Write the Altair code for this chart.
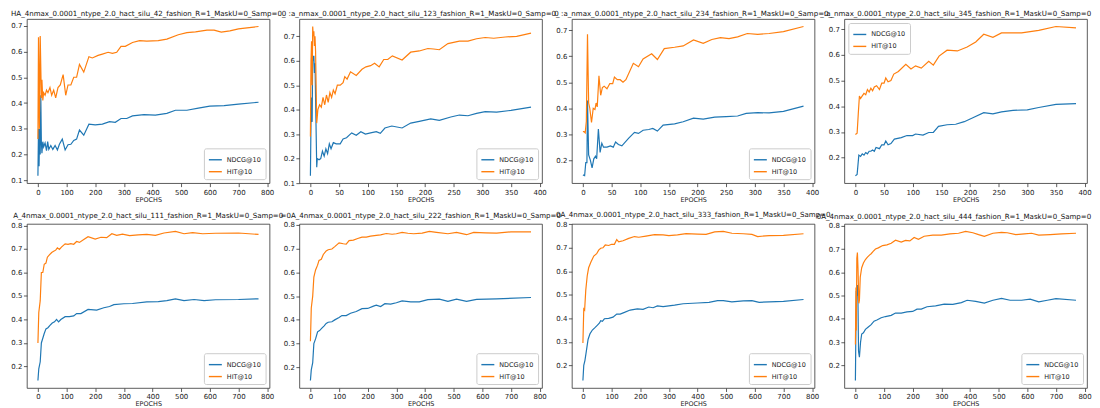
import altair as alt
import pandas as pd

FONT = "DejaVu Sans"
METRICS = ["NDCG@10", "HIT@10"]
COLORS = ["#1f77b4", "#ff7f0e"]

TITLES = [
    "HA_4nmax_0.0001_ntype_2.0_hact_silu_42_fashion_R=1_MaskU=0_Samp=0_",
    "0 :a_nmax_0.0001_ntype_2.0_hact_silu_123_fashion_R=1_MaskU=0_Samp=0_",
    "0 :a_nmax_0.0001_ntype_2.0_hact_silu_234_fashion_R=1_MaskU=0_Samp=0_",
    "_:a_nmax_0.0001_ntype_2.0_hact_silu_345_fashion_R=1_MaskU=0_Samp=0",
    "A_4nmax_0.0001_ntype_2.0_hact_silu_111_fashion_R=1_MaskU=0_Samp=0",
    "=0A_4nmax_0.0001_ntype_2.0_hact_silu_222_fashion_R=1_MaskU=0_Samp=0",
    "0A_4nmax_0.0001_ntype_2.0_hact_silu_333_fashion_R=1_MaskU=0_Samp=0",
    "0A_4nmax_0.0001_ntype_2.0_hact_silu_444_fashion_R=1_MaskU=0_Samp=0",
]

X_TICKS_800 = [0, 100, 200, 300, 400, 500, 600, 700, 800]
X_TICKS_400 = [0, 50, 100, 150, 200, 250, 300, 350, 400]
Y_TICKS_A = [0.1, 0.2, 0.3, 0.4, 0.5, 0.6, 0.7]
Y_TICKS_B = [0.2, 0.3, 0.4, 0.5, 0.6, 0.7]
Y_TICKS_C = [0.2, 0.3, 0.4, 0.5, 0.6, 0.7, 0.8]

# ---- panel 1 (seed 42) ----
P1_HIT_X = [0, 2, 5, 8, 12, 14, 17, 20, 25, 30, 35, 42, 48, 55, 62, 70, 78, 88, 97, 105, 115, 125, 135, 145, 160, 178, 190, 210, 225, 245, 260, 275, 290, 305, 330, 355, 380, 420, 450, 490, 520, 550, 590, 615, 640, 670, 700, 730, 770]
P1_HIT = [0.26, 0.655, 0.30, 0.66, 0.42, 0.49, 0.41, 0.44, 0.43, 0.45, 0.44, 0.46, 0.43, 0.45, 0.42, 0.46, 0.47, 0.51, 0.43, 0.47, 0.47, 0.50, 0.50, 0.55, 0.52, 0.58, 0.575, 0.585, 0.59, 0.597, 0.593, 0.597, 0.62, 0.62, 0.635, 0.642, 0.64, 0.642, 0.648, 0.665, 0.673, 0.676, 0.683, 0.683, 0.675, 0.68, 0.688, 0.692, 0.697]
P1_NDCG_X = [0, 2, 4, 6, 8, 10, 12, 14, 17, 20, 25, 30, 34, 38, 45, 52, 60, 68, 75, 85, 95, 105, 115, 125, 135, 145, 160, 178, 200, 225, 250, 270, 290, 310, 330, 370, 410, 450, 480, 520, 560, 600, 650, 700, 770]
P1_NDCG = [0.118, 0.30, 0.155, 0.30, 0.20, 0.43, 0.25, 0.205, 0.25, 0.23, 0.245, 0.215, 0.25, 0.22, 0.235, 0.22, 0.235, 0.218, 0.24, 0.26, 0.218, 0.238, 0.24, 0.255, 0.26, 0.295, 0.275, 0.318, 0.315, 0.318, 0.328, 0.325, 0.34, 0.34, 0.35, 0.355, 0.353, 0.36, 0.372, 0.372, 0.38, 0.388, 0.39, 0.396, 0.403]

# ---- panel 2 (seed 123) ----
P2_HIT_X = [0, 1, 2, 3, 4, 5, 6, 7, 8, 9, 11, 13, 16, 19, 22, 25, 28, 31, 34, 37, 40, 43, 47, 52, 57, 60, 64, 70, 80, 90, 97, 105, 112, 120, 128, 135, 143, 160, 175, 190, 205, 215, 225, 240, 260, 275, 290, 305, 320, 340, 360, 385]
P2_HIT = [0.29, 0.60, 0.68, 0.50, 0.74, 0.70, 0.72, 0.66, 0.70, 0.64, 0.345, 0.40, 0.42, 0.41, 0.45, 0.42, 0.46, 0.43, 0.47, 0.45, 0.48, 0.465, 0.50, 0.50, 0.51, 0.535, 0.525, 0.555, 0.54, 0.565, 0.575, 0.58, 0.59, 0.575, 0.605, 0.605, 0.62, 0.603, 0.635, 0.64, 0.65, 0.648, 0.645, 0.67, 0.68, 0.68, 0.69, 0.695, 0.692, 0.697, 0.70, 0.713]
P2_NDCG_X = [0, 1, 2, 3, 4, 5, 6, 7, 8, 11, 12, 15, 18, 21, 24, 27, 30, 33, 36, 40, 45, 52, 57, 63, 72, 80, 88, 96, 105, 115, 122, 130, 142, 160, 175, 190, 210, 225, 245, 260, 275, 290, 305, 325, 350, 385]
P2_NDCG = [0.13, 0.35, 0.45, 0.35, 0.62, 0.60, 0.62, 0.55, 0.59, 0.165, 0.20, 0.195, 0.20, 0.23, 0.21, 0.24, 0.22, 0.26, 0.24, 0.265, 0.26, 0.26, 0.28, 0.285, 0.305, 0.295, 0.31, 0.30, 0.305, 0.31, 0.303, 0.325, 0.333, 0.325, 0.345, 0.352, 0.362, 0.356, 0.37, 0.378, 0.375, 0.385, 0.392, 0.39, 0.397, 0.41]

# ---- panel 3 (seed 234) ----
P3_HIT_X = [0, 2, 4, 6, 8, 10, 12, 15, 18, 21, 23, 25, 28, 31, 34, 37, 42, 47, 52, 55, 60, 65, 70, 75, 88, 97, 105, 120, 130, 142, 160, 175, 193, 210, 225, 240, 255, 270, 287, 305, 325, 350, 385]
P3_HIT = [0.31, 0.31, 0.305, 0.35, 0.685, 0.42, 0.40, 0.345, 0.40, 0.395, 0.42, 0.405, 0.525, 0.45, 0.48, 0.485, 0.475, 0.495, 0.495, 0.52, 0.51, 0.51, 0.50, 0.51, 0.573, 0.56, 0.59, 0.61, 0.588, 0.63, 0.635, 0.64, 0.663, 0.65, 0.665, 0.672, 0.668, 0.675, 0.688, 0.685, 0.688, 0.695, 0.715]
P3_NDCG_X = [0, 3, 5, 7, 8, 10, 13, 16, 19, 22, 24, 27, 30, 33, 36, 42, 48, 53, 57, 62, 68, 80, 90, 97, 105, 115, 122, 130, 140, 160, 175, 193, 210, 230, 250, 270, 285, 305, 325, 350, 385]
P3_NDCG = [0.143, 0.14, 0.19, 0.19, 0.43, 0.22, 0.20, 0.17, 0.205, 0.215, 0.205, 0.32, 0.23, 0.265, 0.25, 0.25, 0.255, 0.25, 0.27, 0.26, 0.255, 0.285, 0.307, 0.303, 0.315, 0.318, 0.322, 0.312, 0.335, 0.34, 0.348, 0.362, 0.358, 0.366, 0.368, 0.37, 0.38, 0.383, 0.382, 0.388, 0.408]

# ---- panel 4 (seed 345) ----
P4_HIT_X = [0, 3, 5, 7, 9, 12, 15, 18, 21, 24, 27, 30, 33, 37, 42, 46, 50, 53, 57, 62, 67, 75, 88, 97, 105, 115, 128, 136, 146, 160, 178, 195, 210, 224, 240, 255, 290, 320, 350, 385]
P4_HIT = [0.29, 0.295, 0.37, 0.44, 0.43, 0.44, 0.45, 0.445, 0.465, 0.455, 0.47, 0.46, 0.475, 0.48, 0.465, 0.49, 0.49, 0.51, 0.495, 0.50, 0.525, 0.535, 0.563, 0.545, 0.557, 0.548, 0.575, 0.56, 0.595, 0.618, 0.615, 0.63, 0.65, 0.68, 0.668, 0.685, 0.685, 0.695, 0.71, 0.705]
P4_NDCG_X = [0, 3, 6, 9, 12, 15, 18, 21, 24, 27, 30, 33, 36, 42, 46, 50, 53, 57, 62, 68, 80, 90, 100, 105, 118, 128, 136, 145, 160, 175, 190, 205, 224, 240, 255, 275, 300, 320, 350, 385]
P4_NDCG = [0.13, 0.135, 0.21, 0.205, 0.215, 0.21, 0.22, 0.215, 0.225, 0.225, 0.23, 0.225, 0.24, 0.235, 0.25, 0.25, 0.265, 0.25, 0.255, 0.272, 0.278, 0.286, 0.286, 0.292, 0.288, 0.298, 0.298, 0.322, 0.328, 0.33, 0.34, 0.355, 0.375, 0.37, 0.378, 0.384, 0.386, 0.395, 0.407, 0.41]

# ---- panel 5 (seed 111) ----
P5_HIT_X = [0, 3, 8, 12, 17, 22, 28, 33, 40, 48, 55, 62, 68, 75, 82, 95, 105, 115, 125, 135, 145, 160, 175, 200, 220, 240, 258, 275, 295, 320, 350, 380, 410, 440, 480, 510, 540, 575, 620, 700, 770]
P5_HIT = [0.30, 0.43, 0.48, 0.60, 0.60, 0.635, 0.64, 0.665, 0.675, 0.685, 0.69, 0.695, 0.705, 0.698, 0.708, 0.722, 0.72, 0.723, 0.72, 0.732, 0.728, 0.74, 0.752, 0.742, 0.75, 0.748, 0.765, 0.758, 0.763, 0.757, 0.76, 0.762, 0.758, 0.768, 0.775, 0.765, 0.77, 0.765, 0.767, 0.768, 0.762]
P5_NDCG_X = [0, 3, 8, 12, 17, 22, 28, 35, 42, 50, 58, 65, 72, 80, 95, 110, 125, 135, 150, 175, 205, 230, 250, 265, 300, 330, 380, 420, 450, 480, 510, 545, 580, 620, 700, 770]
P5_NDCG = [0.14, 0.19, 0.22, 0.30, 0.32, 0.34, 0.36, 0.365, 0.375, 0.385, 0.39, 0.40, 0.39, 0.40, 0.412, 0.412, 0.415, 0.425, 0.425, 0.443, 0.44, 0.45, 0.455, 0.463, 0.467, 0.468, 0.475, 0.476, 0.48, 0.488, 0.48, 0.485, 0.48, 0.484, 0.485, 0.488]

# ---- panel 6 (seed 222) ----
P6_HIT_X = [0, 3, 8, 12, 18, 25, 30, 38, 45, 55, 62, 75, 85, 100, 115, 125, 135, 150, 165, 180, 195, 210, 230, 245, 265, 285, 300, 320, 340, 360, 390, 415, 440, 480, 510, 545, 570, 610, 650, 700, 770]
P6_HIT = [0.31, 0.45, 0.50, 0.58, 0.61, 0.63, 0.65, 0.655, 0.675, 0.69, 0.695, 0.698, 0.708, 0.724, 0.72, 0.718, 0.733, 0.735, 0.742, 0.748, 0.748, 0.752, 0.755, 0.757, 0.763, 0.76, 0.762, 0.768, 0.764, 0.762, 0.765, 0.772, 0.768, 0.762, 0.768, 0.758, 0.768, 0.766, 0.765, 0.77, 0.77]
P6_NDCG_X = [0, 3, 8, 12, 18, 25, 32, 40, 48, 55, 62, 75, 85, 100, 110, 125, 140, 160, 180, 200, 220, 230, 245, 260, 280, 300, 320, 350, 380, 410, 450, 480, 510, 545, 580, 650, 770]
P6_NDCG = [0.145, 0.19, 0.22, 0.30, 0.32, 0.35, 0.355, 0.365, 0.375, 0.385, 0.39, 0.392, 0.40, 0.41, 0.418, 0.418, 0.428, 0.435, 0.447, 0.448, 0.458, 0.462, 0.456, 0.468, 0.466, 0.472, 0.48, 0.476, 0.476, 0.485, 0.487, 0.478, 0.487, 0.478, 0.486, 0.488, 0.494]

# ---- panel 7 (seed 333) ----
P7_HIT_X = [0, 3, 6, 10, 15, 20, 28, 38, 48, 55, 62, 70, 78, 90, 100, 110, 118, 125, 140, 160, 180, 195, 220, 250, 280, 300, 330, 360, 400, 430, 460, 490, 520, 560, 590, 610, 650, 700, 770]
P7_HIT = [0.295, 0.44, 0.435, 0.52, 0.58, 0.615, 0.64, 0.665, 0.675, 0.69, 0.698, 0.70, 0.712, 0.71, 0.715, 0.715, 0.735, 0.725, 0.73, 0.74, 0.748, 0.745, 0.75, 0.756, 0.755, 0.752, 0.755, 0.76, 0.758, 0.757, 0.768, 0.77, 0.762, 0.76, 0.757, 0.748, 0.752, 0.753, 0.76]
P7_NDCG_X = [0, 3, 7, 12, 18, 25, 33, 42, 50, 58, 62, 68, 75, 90, 105, 118, 130, 145, 165, 190, 210, 230, 245, 260, 280, 320, 350, 400, 440, 470, 490, 520, 560, 590, 615, 700, 770]
P7_NDCG = [0.135, 0.20, 0.22, 0.26, 0.31, 0.335, 0.35, 0.36, 0.37, 0.38, 0.39, 0.387, 0.398, 0.40, 0.405, 0.418, 0.418, 0.425, 0.435, 0.44, 0.438, 0.448, 0.445, 0.453, 0.45, 0.456, 0.462, 0.465, 0.468, 0.475, 0.475, 0.47, 0.474, 0.475, 0.468, 0.472, 0.48]

# ---- panel 8 (seed 444) ----
P8_HIT_X = [0, 2, 3, 5, 7, 9, 12, 14, 17, 22, 28, 35, 42, 50, 55, 62, 70, 80, 95, 110, 125, 140, 160, 175, 190, 205, 220, 240, 270, 300, 330, 360, 385, 410, 430, 450, 480, 510, 530, 560, 590, 615, 640, 680, 720, 770]
P8_HIT = [0.29, 0.535, 0.35, 0.66, 0.685, 0.62, 0.467, 0.48, 0.58, 0.62, 0.64, 0.655, 0.665, 0.675, 0.68, 0.69, 0.70, 0.705, 0.715, 0.718, 0.725, 0.738, 0.73, 0.737, 0.735, 0.75, 0.742, 0.755, 0.76, 0.76, 0.765, 0.768, 0.776, 0.77, 0.762, 0.755, 0.768, 0.772, 0.77, 0.762, 0.765, 0.768, 0.76, 0.762, 0.765, 0.768]
P8_NDCG_X = [0, 3, 5, 7, 9, 11, 14, 18, 22, 28, 35, 45, 55, 65, 75, 90, 105, 125, 140, 160, 180, 200, 215, 230, 250, 280, 310, 340, 370, 390, 420, 450, 480, 510, 540, 580, 610, 640, 670, 700, 770]
P8_NDCG = [0.135, 0.52, 0.50, 0.545, 0.47, 0.26, 0.235, 0.30, 0.335, 0.34, 0.355, 0.365, 0.375, 0.39, 0.395, 0.405, 0.41, 0.415, 0.425, 0.425, 0.43, 0.432, 0.442, 0.442, 0.452, 0.456, 0.463, 0.462, 0.47, 0.48, 0.475, 0.468, 0.48, 0.488, 0.48, 0.48, 0.485, 0.473, 0.48, 0.487, 0.48]

PANELS = [
    (P1_HIT_X, P1_HIT, P1_NDCG_X, P1_NDCG, X_TICKS_800, Y_TICKS_A, "bottom-right", "middle"),
    (P2_HIT_X, P2_HIT, P2_NDCG_X, P2_NDCG, X_TICKS_400, Y_TICKS_A, "bottom-right", "middle"),
    (P3_HIT_X, P3_HIT, P3_NDCG_X, P3_NDCG, X_TICKS_400, Y_TICKS_B, "bottom-right", "middle"),
    (P4_HIT_X, P4_HIT, P4_NDCG_X, P4_NDCG, X_TICKS_400, Y_TICKS_B, "top-left", "end"),
    (P5_HIT_X, P5_HIT, P5_NDCG_X, P5_NDCG, X_TICKS_800, Y_TICKS_C, "bottom-right", "middle"),
    (P6_HIT_X, P6_HIT, P6_NDCG_X, P6_NDCG, X_TICKS_800, Y_TICKS_C, "bottom-right", "middle"),
    (P7_HIT_X, P7_HIT, P7_NDCG_X, P7_NDCG, X_TICKS_800, Y_TICKS_C, "bottom-right", "middle"),
    (P8_HIT_X, P8_HIT, P8_NDCG_X, P8_NDCG, X_TICKS_800, Y_TICKS_C, "bottom-right", "end"),
]


def make_panel(title, hx, hy, nx, ny, xticks, yticks, legend_orient, title_anchor):
    df = pd.DataFrame(
        {"epoch": list(nx) + list(hx),
         "value": list(ny) + list(hy),
         "metric": ["NDCG@10"] * len(nx) + ["HIT@10"] * len(hx)}
    )
    lo, hi = min(ny + hy), max(ny + hy)
    pad = (hi - lo) * 0.05
    xmax = max(hx + nx)
    return (
        alt.Chart(df, title=alt.Title(title, fontSize=7.1, font=FONT, fontWeight="normal",
                                      color="#111", offset=2, anchor=title_anchor))
        .mark_line(strokeWidth=1.2, clip=True)
        .encode(
            x=alt.X("epoch:Q",
                    scale=alt.Scale(domain=[-0.05 * xmax, 1.05 * xmax], nice=False, zero=False),
                    axis=alt.Axis(values=xticks, title="EPOCHS", format="d")),
            y=alt.Y("value:Q",
                    scale=alt.Scale(domain=[lo - pad, hi + pad], nice=False, zero=False),
                    axis=alt.Axis(values=yticks, title=None, format=".1f")),
            color=alt.Color("metric:N",
                            scale=alt.Scale(domain=METRICS, range=COLORS),
                            legend=alt.Legend(title=None, orient=legend_orient, offset=4,
                                              symbolType="stroke", symbolSize=170,
                                              symbolStrokeWidth=1.4,
                                              labelFontSize=6.5, labelFont=FONT,
                                              labelColor="#222", rowPadding=1,
                                              padding=4, fillColor="white",
                                              strokeColor="#cccccc", cornerRadius=2)),
        )
        .properties(width=244, height=165)
    )


charts = [make_panel(TITLES[i], *PANELS[i]) for i in range(8)]

chart = (
    alt.concat(*charts, columns=4, spacing={"row": 41, "column": 30}, bounds="flush")
    .resolve_scale(color="independent", x="independent", y="independent")
    .configure_view(stroke="#333", strokeWidth=0.8)
    .configure_axis(
        grid=False, domain=False, ticks=True, tickColor="#333", tickSize=3.5, tickWidth=0.8,
        labelFont=FONT, labelFontSize=7, labelColor="#222", labelPadding=1.5,
        titleFont=FONT, titleFontSize=6.5, titleFontWeight="normal", titleColor="#222",
        titlePadding=1,
    )
    .properties(background="white", padding={"left": 2, "top": 0, "right": 0, "bottom": 0})
)

chart.save("out.html", embed_options={"renderer": "svg", "actions": False})
